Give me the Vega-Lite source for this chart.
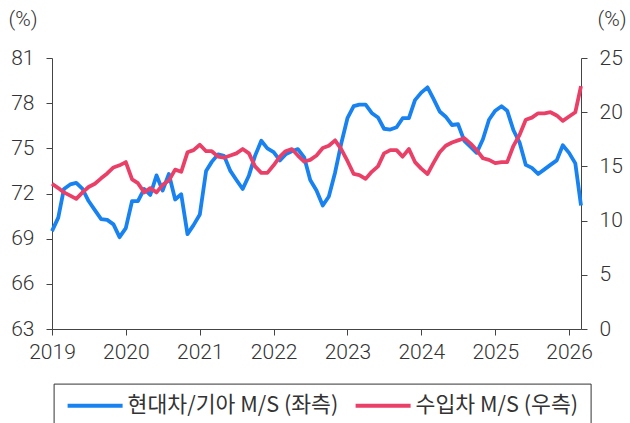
{
  "$schema": "https://vega.github.io/schema/vega-lite/v6.json",
  "autosize": "none",
  "width": 529,
  "height": 271,
  "padding": {"left": 52, "top": 58, "right": 49, "bottom": 94},
  "background": "white",
  "config": {
    "view": {"stroke": null},
    "axis": {
      "grid": false,
      "labelFont": "Roboto",
      "labelFontWeight": 300,
      "labelFontSize": 21,
      "labelColor": "#333333",
      "titleFont": "Roboto",
      "titleFontWeight": 300,
      "titleFontSize": 21,
      "titleColor": "#333333",
      "domainColor": "#444444",
      "tickColor": "#444444",
      "tickSize": 6
    }
  },
  "data": {
    "values": [
      {"d": "2019-01-01", "hk": 69.5, "imp": 13.4},
      {"d": "2019-02-01", "hk": 70.4, "imp": 13.0},
      {"d": "2019-03-01", "hk": 72.3, "imp": 12.6},
      {"d": "2019-04-01", "hk": 72.6, "imp": 12.3},
      {"d": "2019-05-01", "hk": 72.7, "imp": 12.0},
      {"d": "2019-06-01", "hk": 72.3, "imp": 12.6},
      {"d": "2019-07-01", "hk": 71.5, "imp": 13.1},
      {"d": "2019-08-01", "hk": 70.9, "imp": 13.4},
      {"d": "2019-09-01", "hk": 70.3, "imp": 13.9},
      {"d": "2019-10-01", "hk": 70.25, "imp": 14.35},
      {"d": "2019-11-01", "hk": 69.95, "imp": 14.9},
      {"d": "2019-12-01", "hk": 69.1, "imp": 15.1},
      {"d": "2020-01-01", "hk": 69.7, "imp": 15.4},
      {"d": "2020-02-01", "hk": 71.5, "imp": 13.8},
      {"d": "2020-03-01", "hk": 71.5, "imp": 13.45},
      {"d": "2020-04-01", "hk": 72.3, "imp": 12.6},
      {"d": "2020-05-01", "hk": 71.9, "imp": 13.0},
      {"d": "2020-06-01", "hk": 73.2, "imp": 12.6},
      {"d": "2020-07-01", "hk": 72.2, "imp": 13.3},
      {"d": "2020-08-01", "hk": 73.3, "imp": 13.7},
      {"d": "2020-09-01", "hk": 71.6, "imp": 14.7},
      {"d": "2020-10-01", "hk": 71.95, "imp": 14.5},
      {"d": "2020-11-01", "hk": 69.3, "imp": 16.3},
      {"d": "2020-12-01", "hk": 69.9, "imp": 16.5},
      {"d": "2021-01-01", "hk": 70.6, "imp": 17.0},
      {"d": "2021-02-01", "hk": 73.5, "imp": 16.4},
      {"d": "2021-03-01", "hk": 74.1, "imp": 16.4},
      {"d": "2021-04-01", "hk": 74.6, "imp": 15.9},
      {"d": "2021-05-01", "hk": 74.5, "imp": 15.8},
      {"d": "2021-06-01", "hk": 73.5, "imp": 16.0},
      {"d": "2021-07-01", "hk": 72.9, "imp": 16.2},
      {"d": "2021-08-01", "hk": 72.3, "imp": 16.6},
      {"d": "2021-09-01", "hk": 73.2, "imp": 16.2},
      {"d": "2021-10-01", "hk": 74.5, "imp": 15.0},
      {"d": "2021-11-01", "hk": 75.5, "imp": 14.4},
      {"d": "2021-12-01", "hk": 75.0, "imp": 14.4},
      {"d": "2022-01-01", "hk": 74.75, "imp": 15.1},
      {"d": "2022-02-01", "hk": 74.2, "imp": 15.9},
      {"d": "2022-03-01", "hk": 74.6, "imp": 16.4},
      {"d": "2022-04-01", "hk": 74.8, "imp": 16.6},
      {"d": "2022-05-01", "hk": 74.95, "imp": 16.0},
      {"d": "2022-06-01", "hk": 74.4, "imp": 15.45},
      {"d": "2022-07-01", "hk": 72.9, "imp": 15.6},
      {"d": "2022-08-01", "hk": 72.2, "imp": 16.0},
      {"d": "2022-09-01", "hk": 71.2, "imp": 16.7},
      {"d": "2022-10-01", "hk": 71.8, "imp": 16.9},
      {"d": "2022-11-01", "hk": 73.4, "imp": 17.4},
      {"d": "2022-12-01", "hk": 75.3, "imp": 16.6},
      {"d": "2023-01-01", "hk": 77.0, "imp": 15.5},
      {"d": "2023-02-01", "hk": 77.8, "imp": 14.3},
      {"d": "2023-03-01", "hk": 77.9, "imp": 14.2},
      {"d": "2023-04-01", "hk": 77.9, "imp": 13.85},
      {"d": "2023-05-01", "hk": 77.35, "imp": 14.5},
      {"d": "2023-06-01", "hk": 77.05, "imp": 15.0},
      {"d": "2023-07-01", "hk": 76.3, "imp": 16.2},
      {"d": "2023-08-01", "hk": 76.25, "imp": 16.5},
      {"d": "2023-09-01", "hk": 76.4, "imp": 16.5},
      {"d": "2023-10-01", "hk": 77.0, "imp": 15.9},
      {"d": "2023-11-01", "hk": 77.0, "imp": 16.6},
      {"d": "2023-12-01", "hk": 78.2, "imp": 15.4},
      {"d": "2024-01-01", "hk": 78.7, "imp": 14.8},
      {"d": "2024-02-01", "hk": 79.05, "imp": 14.3},
      {"d": "2024-03-01", "hk": 78.3, "imp": 15.3},
      {"d": "2024-04-01", "hk": 77.45, "imp": 16.3},
      {"d": "2024-05-01", "hk": 77.1, "imp": 16.9},
      {"d": "2024-06-01", "hk": 76.55, "imp": 17.2},
      {"d": "2024-07-01", "hk": 76.6, "imp": 17.4},
      {"d": "2024-08-01", "hk": 75.5, "imp": 17.6},
      {"d": "2024-09-01", "hk": 75.1, "imp": 17.1},
      {"d": "2024-10-01", "hk": 74.7, "imp": 16.5},
      {"d": "2024-11-01", "hk": 75.6, "imp": 15.75},
      {"d": "2024-12-01", "hk": 76.9, "imp": 15.6},
      {"d": "2025-01-01", "hk": 77.5, "imp": 15.3},
      {"d": "2025-02-01", "hk": 77.8, "imp": 15.4},
      {"d": "2025-03-01", "hk": 77.5, "imp": 15.4},
      {"d": "2025-04-01", "hk": 76.2, "imp": 16.9},
      {"d": "2025-05-01", "hk": 75.4, "imp": 17.9},
      {"d": "2025-06-01", "hk": 73.9, "imp": 19.3},
      {"d": "2025-07-01", "hk": 73.7, "imp": 19.5},
      {"d": "2025-08-01", "hk": 73.3, "imp": 19.9},
      {"d": "2025-09-01", "hk": 73.6, "imp": 19.9},
      {"d": "2025-10-01", "hk": 73.9, "imp": 20.0},
      {"d": "2025-11-01", "hk": 74.2, "imp": 19.7},
      {"d": "2025-12-01", "hk": 75.2, "imp": 19.2},
      {"d": "2026-01-01", "hk": 74.7, "imp": 19.6},
      {"d": "2026-02-01", "hk": 74.0, "imp": 20.0},
      {"d": "2026-03-01", "hk": 71.2, "imp": 22.4}
    ]
  },
  "encoding": {
    "x": {
      "field": "d",
      "type": "temporal",
      "scale": {
        "type": "utc",
        "domain": [
          {"year": 2019, "month": 1, "date": 1, "utc": true},
          {"year": 2026, "month": 3, "date": 1, "utc": true}
        ]
      },
      "axis": {
        "title": null,
        "format": "%Y",
        "tickCount": {"interval": "year", "step": 1},
        "labelFlush": false,
        "labelOverlap": false,
        "labelPadding": 6
      }
    }
  },
  "layer": [
    {
      "mark": {"type": "line", "strokeWidth": 3.8, "strokeJoin": "round", "strokeCap": "butt"},
      "encoding": {
        "y": {
          "field": "hk",
          "type": "quantitative",
          "scale": {"domain": [63, 81], "nice": false, "zero": false},
          "axis": {
            "orient": "left",
            "values": [63, 66, 69, 72, 75, 78, 81],
            "labelPadding": 12,
            "title": "(%)",
            "titleAngle": 0,
            "titleAlign": "left",
            "titleBaseline": "middle",
            "titleX": -44,
            "titleY": -39
          }
        },
        "color": {
          "datum": "현대차/기아 M/S (좌측)",
          "type": "nominal",
          "scale": {
            "domain": ["현대차/기아 M/S (좌측)", "수입차 M/S (우측)"],
            "range": ["#1782F0", "#EA4068"]
          },
          "legend": {
            "title": null,
            "orient": "none",
            "legendX": 1.6,
            "legendY": 325.6,
            "direction": "horizontal",
            "strokeColor": "#333333",
            "padding": 12,
            "clipHeight": 20,
            "symbolType": "stroke",
            "symbolSize": 3025,
            "symbolStrokeWidth": 4,
            "labelFont": "Noto Sans CJK KR",
            "labelFontSize": 21.6,
            "labelColor": "#333333",
            "labelOffset": 3,
            "columnPadding": 15,
            "labelLimit": 400
          }
        }
      }
    },
    {
      "mark": {"type": "line", "strokeWidth": 3.8, "strokeJoin": "round", "strokeCap": "butt"},
      "encoding": {
        "y": {
          "field": "imp",
          "type": "quantitative",
          "scale": {"domain": [0, 25], "nice": false},
          "axis": {
            "orient": "right",
            "values": [0, 5, 10, 15, 20, 25],
            "labelPadding": 12,
            "title": "(%)",
            "titleAngle": 0,
            "titleAlign": "left",
            "titleBaseline": "middle",
            "titleX": 16,
            "titleY": -39
          }
        },
        "color": {"datum": "수입차 M/S (우측)", "type": "nominal"}
      }
    }
  ],
  "resolve": {"scale": {"y": "independent"}}
}
